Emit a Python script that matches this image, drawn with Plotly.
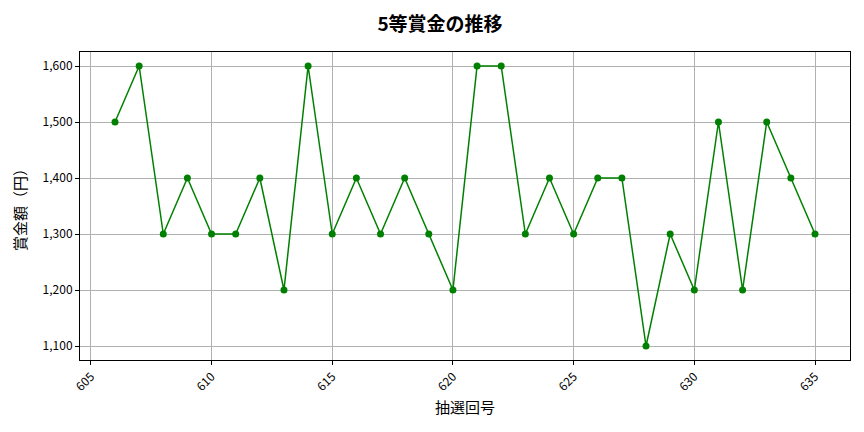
import plotly.graph_objects as go

# draw numbers and prize amounts
draws = list(range(606, 636))
prize = [1500, 1600, 1300, 1400, 1300, 1300, 1400, 1200, 1600, 1300,
         1400, 1300, 1400, 1300, 1200, 1600, 1600, 1300, 1400, 1300,
         1400, 1400, 1100, 1300, 1200, 1500, 1200, 1500, 1400, 1300]

x_ticks = [605, 610, 615, 620, 625, 630, 635]
y_ticks = [1100, 1200, 1300, 1400, 1500, 1600]

FONT = "Noto Sans CJK JP"

fig = go.Figure()
fig.add_trace(go.Scatter(
    x=draws, y=prize, mode="lines+markers",
    line=dict(color="green", width=1.5),
    marker=dict(color="green", size=7),
))

# page body has an 8px margin, so margins are trimmed to land the plot area right
fig.update_layout(
    width=864, height=432,
    margin=dict(l=72, r=22, t=44, b=80),
    paper_bgcolor="white", plot_bgcolor="white",
    font=dict(family=FONT, size=12, color="black"),
    showlegend=False,
    title=dict(text="<b>5等賞金の推移</b>", x=0.5, xanchor="center",
               y=0.961, yanchor="middle", font=dict(size=19)),
)
fig.update_xaxes(
    range=[604.55, 636.45], tickvals=x_ticks, tickangle=-45,
    tickfont=dict(size=12, color="black"),
    showgrid=True, gridcolor="#b0b0b0", gridwidth=0.8,
    showline=True, linecolor="black", mirror=True,
    ticks="outside", ticklen=4, tickcolor="black", zeroline=False,
    automargin=False,
    title=dict(text="抽選回号", font=dict(size=15), standoff=9),
)
fig.update_yaxes(
    range=[1075, 1625], tickvals=y_ticks, tickformat=",d",
    tickfont=dict(size=12, color="black"),
    showgrid=True, gridcolor="#b0b0b0", gridwidth=0.8,
    showline=True, linecolor="black", mirror=True,
    ticks="outside", ticklen=4, tickcolor="black", zeroline=False,
    automargin=False,
    title=dict(text="賞金額（円）", font=dict(size=15), standoff=12),
)

fig.write_html("out.html")
